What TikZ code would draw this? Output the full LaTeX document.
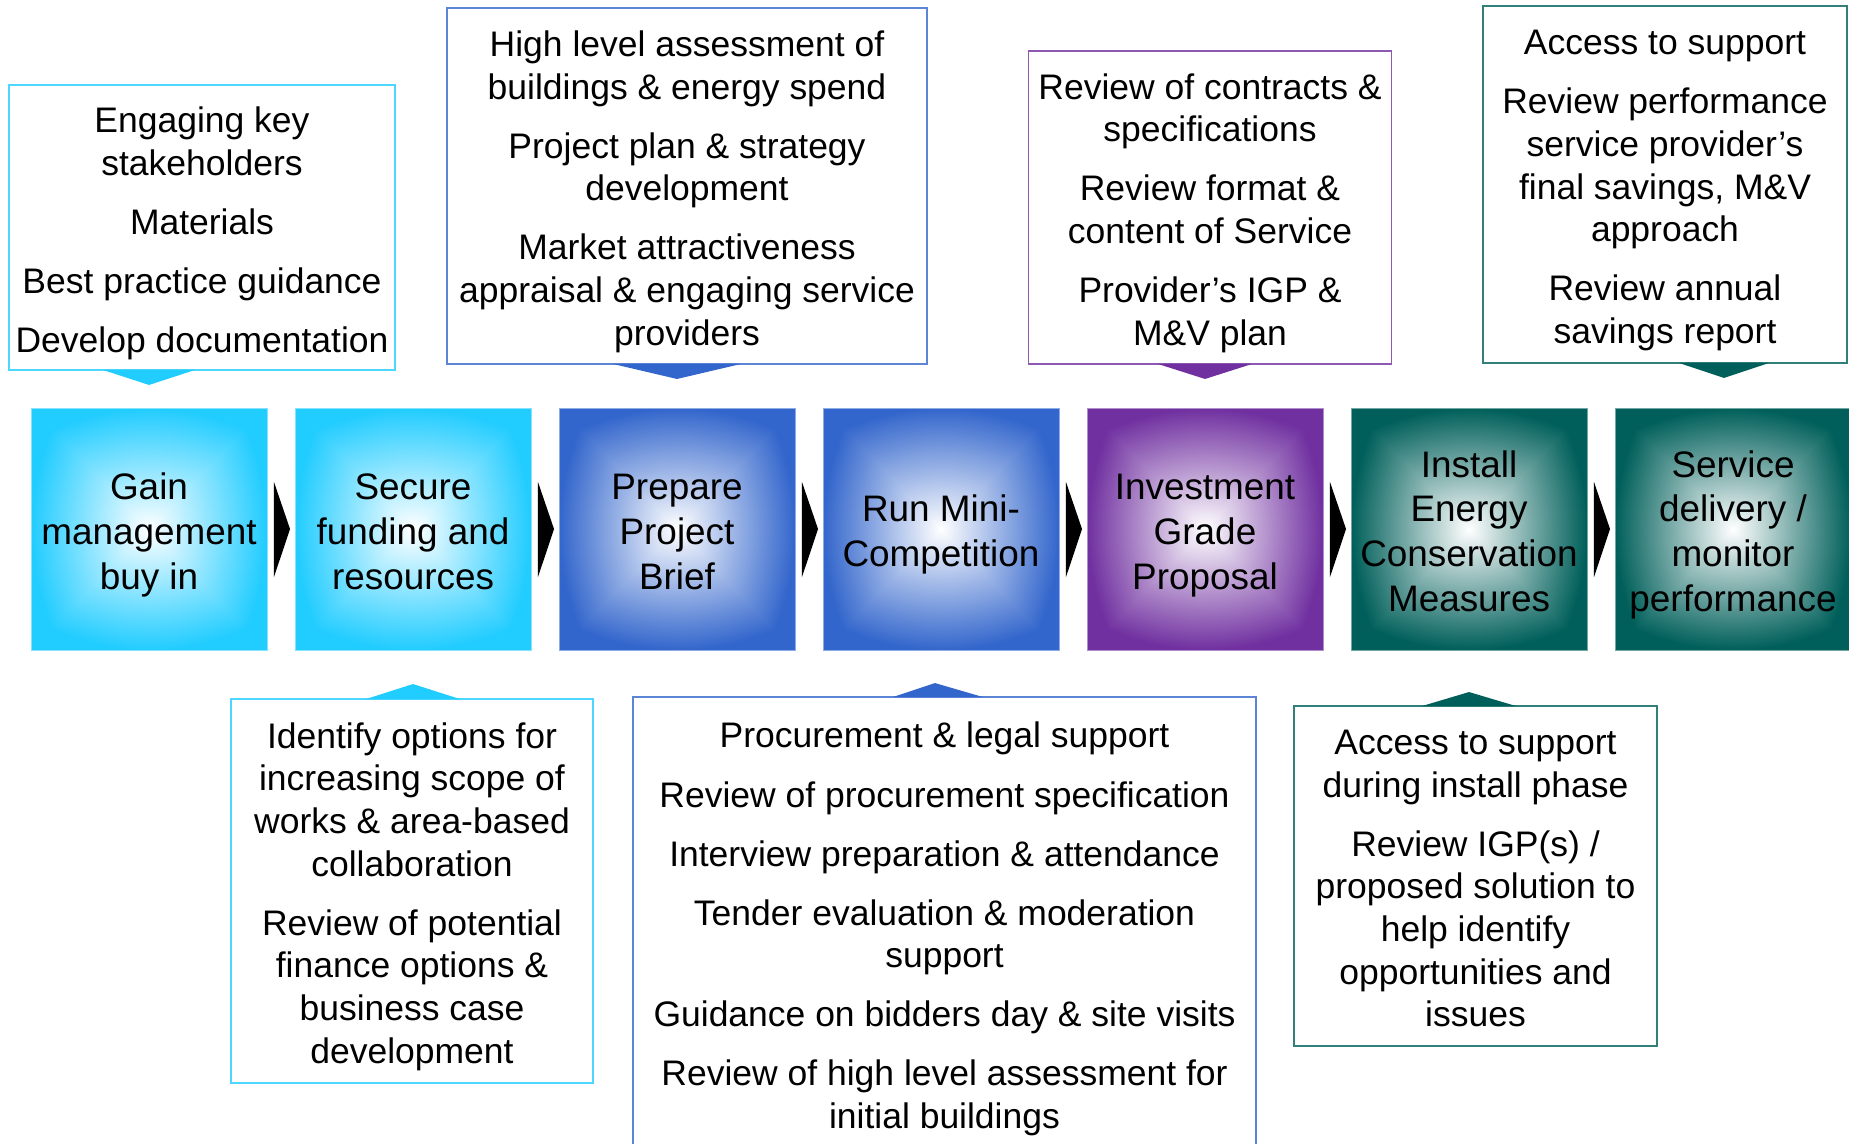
\documentclass[tikz,border=0pt]{standalone}
\usepackage{fontspec}
\setmainfont{Liberation Sans}
\usepackage{tikz}
\usetikzlibrary{positioning,calc}

\definecolor{stepcyan}{HTML}{21CCFF}
\definecolor{stepblue}{HTML}{3366CC}
\definecolor{steppurple}{HTML}{7030A0}
\definecolor{stepteal}{HTML}{005F5A}

% line struts so that text sits like in the slide
\newcommand{\upstrut}{\rule{0pt}{1.05em}}
\newcommand{\downstrut}{\rule[-0.22em]{0pt}{0.22em}}

% white centre fading out to the step colour towards the edges
\colorlet{stepcol}{stepcyan}
\pgfdeclarefunctionalshading[stepcol]{stepglow}{\pgfpoint{0bp}{0bp}}{\pgfpoint{100bp}{100bp}}
  {\pgfshadecolortorgb{stepcol}{\myrgb}}
  {50 sub abs exch 50 sub abs
   2 copy dup mul exch dup mul add sqrt 25 div 3 1 roll
   2 copy lt {exch} if pop 25 div add 2 div
   dup 1 gt {pop 1} if
   dup dup
   1 \myrgbblue sub mul neg 1 add 3 1 roll
   1 \myrgbgreen sub mul neg 1 add 3 1 roll
   1 \myrgbred sub mul neg 1 add 3 1 roll}

\begin{document}
\begin{tikzpicture}[x=0.02cm,y=-0.02cm,
    stepbox/.style={draw=#1!55, line width=0.5pt, /utils/exec={\colorlet{stepcol}{#1}},
      shade, shading=stepglow,
      minimum width=4.72cm, minimum height=4.84cm, inner sep=0pt, outer sep=0pt,
      align=center, font=\fontsize{21}{25.5}\selectfont},
    infobox/.style={draw=#1!80, line width=0.8pt, fill=white, inner sep=0pt, outer sep=0pt,
      align=center, font=\fontsize{20.2}{24.3}\selectfont}]
    \clip (0,0) rectangle (1849,1143);

    % Process steps
    \node[stepbox=stepcyan] (p1) at (149,529) {\upstrut Gain\\management\\buy in\downstrut};
    \node[stepbox=stepcyan] (p2) at (413,529) {\upstrut Secure\\funding and\\resources\downstrut};
    \node[stepbox=stepblue] (p3) at (677,529) {\upstrut Prepare\\Project\\Brief\downstrut};
    \node[stepbox=stepblue] (p4) at (941,529) {\upstrut Run Mini-\\Competition\downstrut};
    \node[stepbox=steppurple] (p5) at (1205,529) {\upstrut Investment\\Grade\\Proposal\downstrut};
    \node[stepbox=stepteal] (p6) at (1469,529) {\upstrut Install\\Energy\\Conservation\\Measures\downstrut};
    \node[stepbox=stepteal] (p7) at (1733,529) {\upstrut Service\\delivery /\\monitor\\performance\downstrut};

    % Chevrons between steps
    \foreach \a/\b in {p1/p2,p2/p3,p3/p4,p4/p5,p5/p6,p6/p7}
      \fill ($(\a.east)+(7,-47)$) -- ($(\b.west)+(-5,0)$) -- ($(\a.east)+(7,48)$) -- cycle;

    % Support boxes above
    \node[infobox=stepcyan, minimum width=7.72cm, minimum height=5.7cm] (c1) at (202,227.5)
      {\upstrut Engaging key\\stakeholders\\[9.3pt]Materials\\[9.3pt]Best practice guidance\\[9.3pt]Develop documentation\downstrut};
    \node[infobox=stepblue, minimum width=9.6cm, minimum height=7.12cm] (c2) at (687,186)
      {\upstrut High level assessment of\\buildings \& energy spend\\[9.3pt]Project plan \& strategy\\development\\[9.3pt]Market attractiveness\\appraisal \& engaging service\\providers\downstrut};
    \node[infobox=steppurple, minimum width=7.26cm, minimum height=6.26cm] (c3) at (1210,207.5)
      {\upstrut Review of contracts \&\\specifications\\[9.3pt]Review format \&\\content of Service\\[9.3pt]Provider’s IGP \&\\M\&V plan\downstrut};
    \node[infobox=stepteal, minimum width=7.28cm, minimum height=7.14cm] (c4) at (1665,184.5)
      {\upstrut Access to support\\[9.3pt]Review performance\\service provider’s\\final savings, M\&V\\approach\\[9.3pt]Review annual\\savings report\downstrut};

    % Support boxes below
    \node[infobox=stepcyan, minimum width=7.24cm, minimum height=7.68cm] (c5) at (412,891)
      {\upstrut Identify options for\\increasing scope of\\works \& area-based\\collaboration\\[9.3pt]Review of potential\\finance options \&\\business case\\development\downstrut};
    \node[infobox=stepblue, minimum width=12.46cm, minimum height=9.06cm] (c6) at (944.5,923.5)
      {\upstrut Procurement \& legal support\\[9.3pt]Review of procurement specification\\[9.3pt]Interview preparation \& attendance\\[9.3pt]Tender evaluation \& moderation\\support\\[9.3pt]Guidance on bidders day \& site visits\\[9.3pt]Review of high level assessment for\\initial buildings\downstrut};
    \node[infobox=stepteal, minimum width=7.26cm, minimum height=6.8cm] (c7) at (1475.5,876)
      {\upstrut Access to support\\during install phase\\[9.3pt]Review IGP(s) /\\proposed solution to\\help identify\\opportunities and\\issues\downstrut};

    % Pointers from support boxes to steps
    \fill[stepcyan] ($(c1.south -| p1.north)+(-46,0)$) -- ($(c1.south -| p1.north)+(0,15)$) -- ($(c1.south -| p1.north)+(46,0)$) -- cycle;
    \fill[stepblue] ($(c2.south -| p3.north)+(-64,0)$) -- ($(c2.south -| p3.north)+(0,15)$) -- ($(c2.south -| p3.north)+(64,0)$) -- cycle;
    \fill[steppurple] ($(c3.south -| p5.north)+(-47,0)$) -- ($(c3.south -| p5.north)+(0,15)$) -- ($(c3.south -| p5.north)+(47,0)$) -- cycle;
    \fill[stepteal] ($(c4.south -| p7.north)+(-54,0)$) -- ($(c4.south -| p7.north)+(-9,15)$) -- ($(c4.south -| p7.north)+(36,0)$) -- cycle;
    \fill[stepcyan] ($(c5.north -| p2.south)+(-47,0)$) -- ($(c5.north -| p2.south)+(0,-15)$) -- ($(c5.north -| p2.south)+(47,0)$) -- cycle;
    \fill[stepblue] ($(c6.north -| p4.south)+(-48,0)$) -- ($(c6.north -| p4.south)+(-6,-14)$) -- ($(c6.north -| p4.south)+(42,0)$) -- cycle;
    \fill[stepteal] ($(c7.north -| p6.south)+(-47,0)$) -- ($(c7.north -| p6.south)+(0,-14)$) -- ($(c7.north -| p6.south)+(47,0)$) -- cycle;

\end{tikzpicture}
\end{document}
